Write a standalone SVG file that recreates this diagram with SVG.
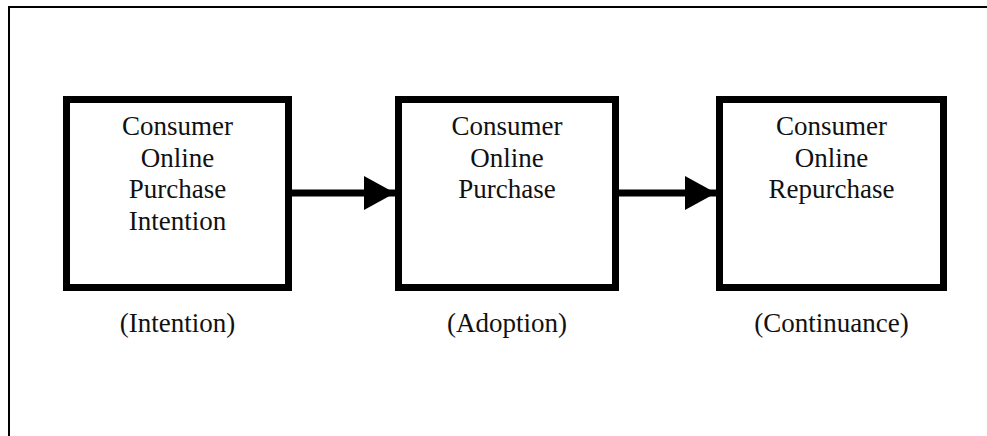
<svg xmlns="http://www.w3.org/2000/svg" width="987" height="436" viewBox="0 0 987 436">
  <defs>
    <style>
      .frame { fill: none; stroke: #000; stroke-width: 2; }
      .box { fill: #fff; stroke: #000; stroke-width: 7; }
      .link { stroke: #000; stroke-width: 7; fill: none; }
      .txt { font-size: 27px; fill: #111; text-anchor: middle; }
    </style>
    <marker id="head" markerUnits="userSpaceOnUse" markerWidth="32" markerHeight="34" refX="31" refY="17" orient="auto">
      <path d="M0,0 L31,17 L0,34 Z" fill="#000"/>
    </marker>
  </defs>

  <rect width="987" height="436" fill="#fff"/>
  <!-- outer frame: top and left edges only -->
  <path class="frame" d="M9,436 L9,7 L987,7"/>

  <g id="connectors">
    <line class="link" x1="288" y1="193" x2="395" y2="193" marker-end="url(#head)"/>
    <line class="link" x1="619" y1="193" x2="716" y2="193" marker-end="url(#head)"/>
  </g>

  <g font-family="Liberation Serif, DejaVu Serif, serif">
    <g id="intention">
      <rect class="box" x="66.5" y="99.5" width="222" height="188"/>
      <text class="txt" x="177.5" y="135">Consumer</text>
      <text class="txt" x="177.5" y="167">Online</text>
      <text class="txt" x="177.5" y="198">Purchase</text>
      <text class="txt" x="177.5" y="230">Intention</text>
      <text class="txt" x="177.5" y="332">(Intention)</text>
    </g>

    <g id="adoption">
      <rect class="box" x="398.5" y="99.5" width="217" height="188"/>
      <text class="txt" x="507" y="135">Consumer</text>
      <text class="txt" x="507" y="167">Online</text>
      <text class="txt" x="507" y="198">Purchase</text>
      <text class="txt" x="507" y="332">(Adoption)</text>
    </g>

    <g id="continuance">
      <rect class="box" x="719.5" y="99.5" width="224" height="188"/>
      <text class="txt" x="831.5" y="135">Consumer</text>
      <text class="txt" x="831.5" y="167">Online</text>
      <text class="txt" x="831.5" y="198">Repurchase</text>
      <text class="txt" x="831.5" y="332">(Continuance)</text>
    </g>
  </g>
</svg>
